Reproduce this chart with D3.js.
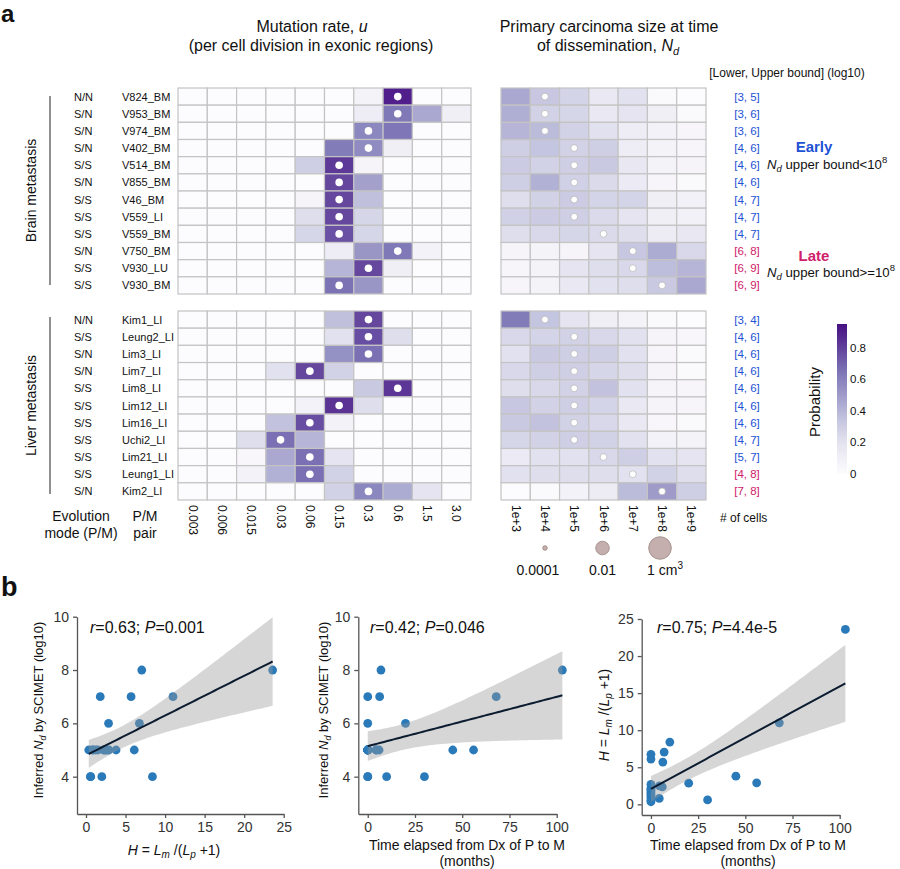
<!DOCTYPE html>
<html><head><meta charset="utf-8">
<script src="https://cdn.jsdelivr.net/npm/d3@7"></script>
<style>
body{margin:0;background:#fff}
text{font-family:"Liberation Sans",Arial,Helvetica,sans-serif;fill:#111}
</style>
</head><body>
<svg id="c" width="900" height="869"></svg>
<script>
// ---------------- DATA ----------------
const mutCols = ["0.003","0.006","0.015","0.03","0.06","0.15","0.3","0.6","1.5","3.0"];
const ndCols = ["1e+3","1e+4","1e+5","1e+6","1e+7","1e+8","1e+9"];

const brainPairs = ["V824_BM","V953_BM","V974_BM","V402_BM","V514_BM","V855_BM","V46_BM","V559_LI","V559_BM","V750_BM","V930_LU","V930_BM"];
const brainModes = ["N/N","S/N","S/N","S/N","S/S","S/N","S/S","S/S","S/S","S/N","S/S","S/S"];
const brainBounds = ["[3, 5]","[3, 6]","[3, 6]","[4, 6]","[4, 6]","[4, 6]","[4, 7]","[4, 7]","[4, 7]","[6, 8]","[6, 9]","[6, 9]"];
const brainLate = [0,0,0,0,0,0,0,0,0,1,1,1];

const liverPairs = ["Kim1_LI","Leung2_LI","Lim3_LI","Lim7_LI","Lim8_LI","Lim12_LI","Lim16_LI","Uchi2_LI","Lim21_LI","Leung1_LI","Kim2_LI"];
const liverModes = ["N/N","S/S","S/N","S/N","S/S","S/S","S/S","S/S","S/S","S/S","S/N"];
const liverBounds = ["[3, 4]","[4, 6]","[4, 6]","[4, 6]","[4, 6]","[4, 6]","[4, 6]","[4, 7]","[5, 7]","[4, 8]","[7, 8]"];
const liverLate = [0,0,0,0,0,0,0,0,0,1,1];

// mutation-rate posterior probabilities (rows x mutCols)
const brainMut = [
  [0,0,0,0,0,0,0.07,0.9,0,0],
  [0,0,0,0,0,0,0.12,0.63,0.45,0.1],
  [0,0,0,0,0,0,0.58,0.64,0,0],
  [0,0,0,0,0,0.62,0.56,0.1,0,0],
  [0,0,0,0,0.3,0.82,0.06,0,0,0],
  [0,0,0,0,0,0.78,0.48,0,0,0],
  [0,0,0,0,0.06,0.78,0.36,0,0,0],
  [0,0,0,0,0.22,0.78,0.26,0,0,0],
  [0,0,0,0,0.26,0.75,0.26,0,0,0],
  [0,0,0,0,0,0.12,0.52,0.63,0.08,0],
  [0,0,0,0,0,0.4,0.78,0.1,0,0],
  [0,0,0,0,0,0.65,0.52,0,0,0]
];
const brainMutDot = [7,7,6,6,5,5,5,5,5,7,6,5];
const liverMut = [
  [0,0,0,0,0,0.36,0.78,0,0,0],
  [0,0,0,0,0,0.2,0.76,0.22,0,0],
  [0,0,0,0,0,0.54,0.66,0,0,0],
  [0,0,0,0.2,0.78,0.28,0,0,0,0],
  [0,0,0,0,0,0,0.32,0.83,0,0],
  [0,0,0,0,0.08,0.84,0.22,0,0,0],
  [0,0,0,0.35,0.76,0.08,0,0,0,0],
  [0,0,0.22,0.66,0.4,0,0,0,0,0],
  [0,0,0.04,0.45,0.66,0.18,0,0,0,0],
  [0,0,0.08,0.42,0.66,0.28,0,0,0,0],
  [0,0,0,0,0,0.28,0.58,0.44,0.18,0]
];
const liverMutDot = [6,6,6,4,7,5,4,3,4,4,6];

// Nd posterior probabilities (rows x ndCols)
const brainNd = [
  [0.45,0.33,0.27,0.15,0.2,0.02,0],
  [0.43,0.28,0.26,0.15,0.18,0.1,0.02],
  [0.4,0.38,0.28,0.2,0.12,0.08,0.05],
  [0.3,0.34,0.28,0.3,0.12,0.07,0.05],
  [0.31,0.28,0.3,0.32,0.16,0.07,0.06],
  [0.3,0.42,0.29,0.24,0.14,0.05,0.02],
  [0.22,0.28,0.31,0.27,0.27,0.1,0.09],
  [0.29,0.31,0.3,0.24,0.18,0.1,0.09],
  [0.22,0.25,0.26,0.24,0.22,0.13,0.16],
  [0.06,0.07,0.06,0.18,0.33,0.44,0.25],
  [0.05,0.07,0.18,0.22,0.25,0.37,0.4],
  [0.05,0.07,0.15,0.2,0.22,0.32,0.45]
];
const brainNdDot = [1,1,1,2,2,2,2,2,3,4,4,5];
const liverNd = [
  [0.62,0.34,0.18,0.1,0.07,0.02,0],
  [0.25,0.27,0.28,0.25,0.2,0.06,0.04],
  [0.2,0.32,0.3,0.3,0.2,0.05,0.02],
  [0.25,0.3,0.3,0.26,0.22,0.06,0.02],
  [0.22,0.25,0.28,0.35,0.2,0.06,0.05],
  [0.33,0.28,0.3,0.27,0.15,0.06,0.05],
  [0.32,0.35,0.28,0.25,0.15,0.04,0.02],
  [0.26,0.28,0.3,0.28,0.2,0.08,0.07],
  [0.14,0.2,0.2,0.25,0.3,0.2,0.18],
  [0.2,0.22,0.22,0.22,0.2,0.28,0.22],
  [0,0.02,0.08,0.13,0.38,0.5,0.3]
];
const liverNdDot = [1,2,2,2,2,2,2,2,3,4,5];

const probTicks = [0,0.2,0.4,0.6,0.8];
const volLabels = ["0.0001","0.01","1"];
const volLog = [-4,-2,0];

// panel b: per P/M pair
const hRatio =  [23.6,11.0,8.4,7.05,6.75,6.1,5.7,3.8,2.85,2.9,0.6,1.8,2.0,2.35,0.8,0.35,0.9,2.7,1.2,0.55,2.5,1.5,2.2];
const months =  [103,68,10,7,0,0,6.3,45,20,56,30,0,0,6,4.4,0,0,0,0,0,4.5,0,0];
const ndLog =   [8,7,4,8,6,5,7,5,6,5,4,7,4,5,5,5,5,5,5,4,5,5,5];
const statR = ["0.63","0.42","0.75"];
const statP = ["0.001","0.046","4.4e-5"];

// ---------------- DRAW ----------------
const svg = d3.select("#c");
const FONT = '"Liberation Sans",Arial,Helvetica,sans-serif';
const color = d3.scaleSequential(d3.interpolatePurples).domain([0,1]);
const BLUE = "#1d52d6", LATE = "#d0206a";

svg.append("text").attr("x",1).attr("y",22).attr("font-size",24).attr("font-weight","bold").text("a");
svg.append("text").attr("x",1).attr("y",596).attr("font-size",27).attr("font-weight","bold").text("b");

// titles
const t1 = svg.append("text").attr("x",312).attr("y",32).attr("text-anchor","middle").attr("font-size",16);
t1.append("tspan").text("Mutation rate, ");
t1.append("tspan").attr("font-style","italic").text("u");
svg.append("text").attr("x",311).attr("y",51).attr("text-anchor","middle").attr("font-size",16).text("(per cell division in exonic regions)");
svg.append("text").attr("x",609).attr("y",32).attr("text-anchor","middle").attr("font-size",16).text("Primary carcinoma size at time");
const t2 = svg.append("text").attr("x",608).attr("y",51).attr("text-anchor","middle").attr("font-size",16);
t2.append("tspan").text("of dissemination, ");
t2.append("tspan").attr("font-style","italic").text("N");
t2.append("tspan").attr("font-style","italic").attr("font-size",11).attr("dy",4).text("d");
svg.append("text").attr("x",787).attr("y",77).attr("text-anchor","middle").attr("font-size",12).text("[Lower, Upper bound] (log10)");

const mutX = d3.scaleBand().domain(mutCols).range([178,471]);
const ndX = d3.scaleBand().domain(ndCols).range([501,706]);

function block(pairs, modes, mut, mutDot, nd, ndDot, bounds, late, y0, y1, label, ly0, ly1) {
  const y = d3.scaleBand().domain(pairs).range([y0,y1]);
  const g = svg.append("g");
  pairs.forEach((p,i)=>{
    g.append("g").selectAll("rect").data(mut[i]).join("rect")
      .attr("x",(d,j)=>mutX(mutCols[j])).attr("y",y(p))
      .attr("width",mutX.bandwidth()).attr("height",y.bandwidth())
      .attr("fill",d=>color(d)).attr("stroke","#c4c4c4").attr("stroke-width",1.2);
    g.append("g").selectAll("rect").data(nd[i]).join("rect")
      .attr("x",(d,j)=>ndX(ndCols[j])).attr("y",y(p))
      .attr("width",ndX.bandwidth()).attr("height",y.bandwidth())
      .attr("fill",d=>color(d)).attr("stroke","#c4c4c4").attr("stroke-width",1.2);
  });
  g.selectAll(".md").data(pairs).join("circle")
    .attr("cx",(p,i)=>mutX(mutCols[mutDot[i]])+mutX.bandwidth()/2)
    .attr("cy",p=>y(p)+y.bandwidth()/2).attr("r",3.8).attr("fill","#fff");
  g.selectAll(".nd").data(pairs).join("circle")
    .attr("cx",(p,i)=>ndX(ndCols[ndDot[i]])+ndX.bandwidth()/2)
    .attr("cy",p=>y(p)+y.bandwidth()/2).attr("r",3.4).attr("fill","#fff")
    .attr("stroke","#aaa").attr("stroke-width",0.6);
  g.selectAll(".ml").data(pairs).join("text")
    .attr("x",74).attr("y",p=>y(p)+y.bandwidth()/2+4).attr("font-size",11)
    .text((p,i)=>modes[i]);
  g.selectAll(".pl").data(pairs).join("text")
    .attr("x",122).attr("y",p=>y(p)+y.bandwidth()/2+4).attr("font-size",11)
    .text(p=>p);
  g.selectAll(".bl").data(pairs).join("text")
    .attr("x",747).attr("y",p=>y(p)+y.bandwidth()/2+4).attr("font-size",11.5)
    .attr("text-anchor","middle").style("fill",(p,i)=>late[i]?LATE:BLUE)
    .text((p,i)=>bounds[i]);
  g.append("line").attr("x1",50).attr("x2",50).attr("y1",ly0).attr("y2",ly1)
    .attr("stroke","#555").attr("stroke-width",1.3);
  g.append("text").attr("transform",`translate(36,${(ly0+ly1)/2}) rotate(-90)`)
    .attr("text-anchor","middle").attr("font-size",14).text(label);
}
block(brainPairs, brainModes, brainMut, brainMutDot, brainNd, brainNdDot, brainBounds, brainLate, 88, 294, "Brain metastasis", 96, 285);
block(liverPairs, liverModes, liverMut, liverMutDot, liverNd, liverNdDot, liverBounds, liverLate, 311, 500, "Liver metastasis", 317, 494);

// early / late annotations
svg.append("text").attr("x",814).attr("y",152).attr("text-anchor","middle").attr("font-size",15).attr("font-weight","bold").style("fill",BLUE).text("Early");
function ndBound(x,yb,op){
  const t = svg.append("text").attr("x",x).attr("y",yb).attr("font-size",13.2);
  t.append("tspan").attr("font-style","italic").text("N");
  t.append("tspan").attr("font-style","italic").attr("font-size",9.5).attr("dy",3).text("d");
  t.append("tspan").attr("dy",-3).text(" upper bound"+op+"10");
  t.append("tspan").attr("font-size",9.5).attr("dy",-6).text("8");
}
ndBound(767,169,"<");
svg.append("text").attr("x",814).attr("y",261).attr("text-anchor","middle").attr("font-size",15).attr("font-weight","bold").style("fill",LATE).text("Late");
ndBound(767,277,">=");

// column labels
svg.selectAll(".mx").data(mutCols).join("text")
  .attr("transform",d=>`translate(${mutX(d)+mutX.bandwidth()/2-4},505) rotate(90)`)
  .attr("font-size",12).text(d=>d);
svg.selectAll(".nx").data(ndCols).join("text")
  .attr("transform",d=>`translate(${ndX(d)+ndX.bandwidth()/2-4},505) rotate(90)`)
  .attr("font-size",12).text(d=>d);
svg.append("text").attr("x",720).attr("y",522).attr("font-size",12).text("# of cells");
[["Evolution",81,521],["mode (P/M)",81,538],["P/M",145,521],["pair",145,538]].forEach(d=>{
  svg.append("text").attr("x",d[1]).attr("y",d[2]).attr("text-anchor","middle").attr("font-size",14).text(d[0]);
});

// volume legend
const volX = d3.scalePoint().domain(volLabels).range([545,660]);
const volR = d3.scaleLinear().domain([-4,0]).range([2.3,11.3]);
svg.selectAll(".vc").data(volLabels).join("circle")
  .attr("cx",d=>volX(d)).attr("cy",548).attr("r",(d,i)=>volR(volLog[i]))
  .attr("fill","#c4afae").attr("stroke","#9b8583").attr("stroke-width",0.8);
volLabels.forEach((d,i)=>{
  const t = svg.append("text").attr("x",volX(d)+(i===0?-7:(i===2?5:0))).attr("y",575).attr("text-anchor","middle").attr("font-size",14);
  t.append("tspan").text(i===2? d+" cm" : d);
  if(i===2) t.append("tspan").attr("font-size",10).attr("dy",-6).text("3");
});

// colorbar
const cbY = d3.scaleLinear().domain([0,0.95]).range([474,324]);
const grad = svg.append("defs").append("linearGradient").attr("id","cb").attr("x1",0).attr("x2",0).attr("y1",1).attr("y2",0);
d3.range(0,1.0001,0.05).forEach(f=>grad.append("stop").attr("offset",f).attr("stop-color",color(f*0.95)));
svg.append("rect").attr("x",837).attr("y",cbY(0.95)).attr("width",10).attr("height",cbY(0)-cbY(0.95)).attr("fill","url(#cb)");
svg.selectAll(".cbt").data(probTicks).join("text")
  .attr("x",850).attr("y",d=>cbY(d)+4).attr("font-size",11.5).text(d=>d);
svg.append("text").attr("transform","translate(820,402) rotate(-90)").attr("text-anchor","middle").attr("font-size",15).text("Probability");

// ---------------- panel b ----------------
function fit(xs, ys){
  const n = xs.length, mx = d3.mean(xs), my = d3.mean(ys);
  let sxx=0, sxy=0;
  xs.forEach((x,i)=>{sxx+=(x-mx)**2; sxy+=(x-mx)*(ys[i]-my);});
  const b = sxy/sxx, a = my - b*mx;
  let sse=0; xs.forEach((x,i)=>{sse+=(ys[i]-a-b*x)**2;});
  const s = Math.sqrt(sse/(n-2));
  return {a,b,s,mx,sxx,n};
}
const tCrit = 2.08;
function scatter(cfg){
  const g = svg.append("g");
  const x = d3.scaleLinear().domain(cfg.xd).range(cfg.xr);
  const y = d3.scaleLinear().domain(cfg.yd).range(cfg.yr);
  const ax = g.append("g").attr("transform",`translate(0,${cfg.yr[0]})`)
    .call(d3.axisBottom(x).tickValues(cfg.xt).tickSize(4).tickSizeOuter(0).tickPadding(4));
  const ay = g.append("g").attr("transform",`translate(${cfg.xr[0]},0)`)
    .call(d3.axisLeft(y).tickValues(cfg.yt).tickSize(4).tickSizeOuter(0).tickPadding(4));
  [ax,ay].forEach(a=>{
    a.selectAll("path,line").attr("stroke","#555").attr("stroke-width",1.3);
    a.selectAll("text").attr("font-size",14).attr("font-family",FONT).style("fill","#333");
  });
  // points
  g.selectAll(".pt").data(cfg.xs).join("circle")
    .attr("cx",d=>x(d)).attr("cy",(d,i)=>y(cfg.ys[i])).attr("r",4.4).attr("fill","#2a7ab9");
  // fit + CI
  const f = fit(cfg.xs, cfg.ys);
  const xmin = d3.min(cfg.xs), xmax = d3.max(cfg.xs);
  const grid = d3.range(0,61).map(k=>xmin+(xmax-xmin)*k/60);
  const band = grid.map(v=>{
    const yh = f.a+f.b*v, se = f.s*Math.sqrt(1/f.n+(v-f.mx)**2/f.sxx);
    return {v, lo: yh-tCrit*se, hi: yh+tCrit*se, yh};
  });
  g.append("path").datum(band)
    .attr("d",d3.area().x(d=>x(d.v)).y0(d=>y(d.lo)).y1(d=>y(d.hi)))
    .attr("fill","#999").attr("fill-opacity",0.4);
  g.append("path").datum(band)
    .attr("d",d3.line().x(d=>x(d.v)).y(d=>y(d.yh)))
    .attr("fill","none").attr("stroke","#0c1c30").attr("stroke-width",2);
  // stat label
  const st = g.append("text").attr("x",cfg.sx).attr("y",633).attr("font-size",16);
  st.append("tspan").attr("font-style","italic").text("r");
  st.append("tspan").text("="+statR[cfg.k]+"; ");
  st.append("tspan").attr("font-style","italic").text("P");
  st.append("tspan").text("="+statP[cfg.k]);
  return g;
}
function hLabel(t){
  t.append("tspan").attr("font-style","italic").text("H");
  t.append("tspan").text(" = ");
  t.append("tspan").attr("font-style","italic").text("L");
  t.append("tspan").attr("font-style","italic").attr("font-size",10).attr("dy",3).text("m");
  t.append("tspan").attr("dy",-3).text(" /(");
  t.append("tspan").attr("font-style","italic").text("L");
  t.append("tspan").attr("font-style","italic").attr("font-size",10).attr("dy",3).text("p");
  t.append("tspan").attr("dy",-3).text(" +1)");
}
function ndLabel(t){
  t.append("tspan").text("Inferred ");
  t.append("tspan").attr("font-style","italic").text("N");
  t.append("tspan").attr("font-style","italic").attr("font-size",9).attr("dy",3).text("d");
  t.append("tspan").attr("dy",-3).text("  by SCIMET (log10)");
}

scatter({k:0, xs:hRatio, ys:ndLog, xd:[-1.14,25], xr:[77,283.7], yd:[2.6,10], yr:[814,616.7], xt:[0,5,10,15,20,25], yt:[4,6,8,10], sx:90});
scatter({k:1, xs:months, ys:ndLog, xd:[-5,100], xr:[358.3,556.7], yd:[2.6,10], yr:[814,616.7], xt:[0,25,50,75,100], yt:[4,6,8,10], sx:370});
scatter({k:2, xs:months, ys:hRatio, xd:[-4.9,100], xr:[641.7,839.7], yd:[-1.44,25], yr:[815,619], xt:[0,25,50,75,100], yt:[0,5,10,15,20,25], sx:657});

ndLabel(svg.append("text").attr("transform","translate(43,710) rotate(-90)").attr("text-anchor","middle").attr("font-size",13));
ndLabel(svg.append("text").attr("transform","translate(328,710) rotate(-90)").attr("text-anchor","middle").attr("font-size",13));
hLabel(svg.append("text").attr("transform","translate(609,715) rotate(-90)").attr("text-anchor","middle").attr("font-size",14));
hLabel(svg.append("text").attr("x",174).attr("y",855).attr("text-anchor","middle").attr("font-size",14));
[467,748].forEach(cx=>{
  svg.append("text").attr("x",cx).attr("y",850).attr("text-anchor","middle").attr("font-size",14).text("Time elapsed from Dx of P to M");
  svg.append("text").attr("x",cx).attr("y",866).attr("text-anchor","middle").attr("font-size",14).text("(months)");
});
</script>
</body></html>
